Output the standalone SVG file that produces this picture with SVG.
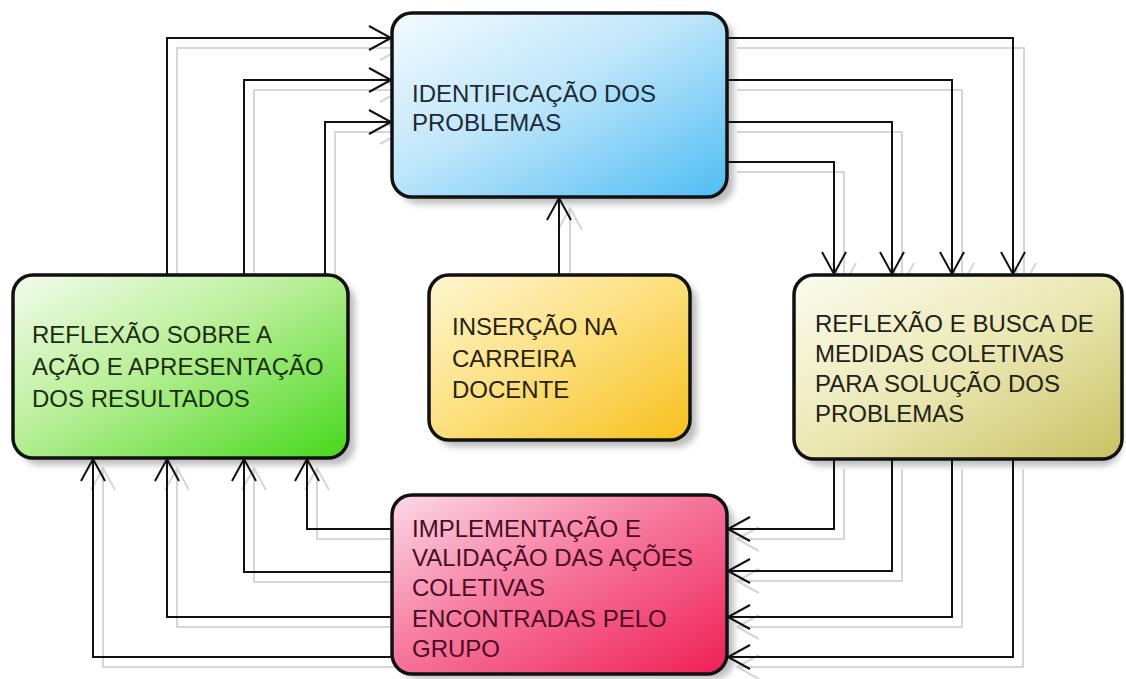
<svg xmlns="http://www.w3.org/2000/svg" width="1126" height="679" viewBox="0 0 1126 679">
<style>
.bg{fill:#ffffff}
.box{stroke:#111;stroke-width:3.5}
.shadow{fill:#bdbdbd;filter:url(#blur)}
.conn{fill:none;stroke:#111;stroke-width:2;marker-end:url(#arr)}
.ghost{fill:none;stroke:#d6d6d6;stroke-width:2;marker-end:url(#garr)}
.lbl{font-family:"Liberation Sans",Arial,sans-serif;font-size:24px}
</style>
<defs>
<filter id="blur" x="-10%" y="-10%" width="120%" height="120%"><feGaussianBlur stdDeviation="3"/></filter>
<marker id="arr" markerUnits="userSpaceOnUse" markerWidth="30" markerHeight="30" viewBox="-24 -15 28 30" refX="0" refY="0" orient="auto">
<path d="M-22,-12 L0,0 L-22,12" fill="none" stroke="#111" stroke-width="2"/>
</marker>
<marker id="garr" markerUnits="userSpaceOnUse" markerWidth="30" markerHeight="30" viewBox="-24 -15 28 30" refX="0" refY="0" orient="auto">
<path d="M-22,-12 L0,0 L-22,12" fill="none" stroke="#d6d6d6" stroke-width="2"/>
</marker>
<linearGradient id="gBlue" x1="0" y1="0" x2="1" y2="1"><stop offset="0" stop-color="#f4fbff"/><stop offset="0.45" stop-color="#bfe6fa"/><stop offset="1" stop-color="#4fbdf3"/></linearGradient>
<linearGradient id="gGreen" x1="0" y1="0" x2="1" y2="1"><stop offset="0" stop-color="#f3fcec"/><stop offset="0.45" stop-color="#b9ef98"/><stop offset="1" stop-color="#45d81a"/></linearGradient>
<linearGradient id="gYellow" x1="0" y1="0" x2="1" y2="1"><stop offset="0" stop-color="#fef6d2"/><stop offset="0.5" stop-color="#fcdf7c"/><stop offset="1" stop-color="#f7c01c"/></linearGradient>
<linearGradient id="gOlive" x1="0" y1="0" x2="1" y2="1"><stop offset="0" stop-color="#fcfcf0"/><stop offset="0.5" stop-color="#ebe8b4"/><stop offset="1" stop-color="#c9c163"/></linearGradient>
<linearGradient id="gPink" x1="0" y1="0" x2="1" y2="1"><stop offset="0" stop-color="#fbdbe8"/><stop offset="0.45" stop-color="#f6799e"/><stop offset="1" stop-color="#ef1f56"/></linearGradient>
</defs>
<rect class="bg" x="0" y="0" width="1126" height="679"/>

<g id="ghost-connectors">
<path class="ghost" d="M177,285 V48 H402"/>
<path class="ghost" d="M254,285 V90 H402"/>
<path class="ghost" d="M335,285 V132 H402"/>
<path class="ghost" d="M737,48 H1024 V285"/>
<path class="ghost" d="M737,90 H962 V285"/>
<path class="ghost" d="M737,132 H902 V285"/>
<path class="ghost" d="M737,172 H844 V285"/>
<path class="ghost" d="M570,285 V208"/>
<path class="ghost" d="M844,469 V539 H737"/>
<path class="ghost" d="M902,469 V581 H737"/>
<path class="ghost" d="M962,469 V627 H737"/>
<path class="ghost" d="M1023,469 V667 H737"/>
<path class="ghost" d="M402,539 H317 V468"/>
<path class="ghost" d="M402,582 H254 V468"/>
<path class="ghost" d="M402,627 H177 V468"/>
<path class="ghost" d="M402,667 H103 V468"/>
</g>

<g id="node-identificacao">
<rect class="shadow" x="399" y="20" width="335" height="184" rx="20"/>
<rect class="box" x="392" y="13" width="335" height="184" rx="20" fill="url(#gBlue)"/>
<text class="lbl" fill="#1c2a36"><tspan x="412" y="102">IDENTIFICAÇÃO DOS</tspan><tspan x="412" y="131">PROBLEMAS</tspan></text>
</g>

<g id="node-reflexao-acao">
<rect class="shadow" x="20" y="282" width="335" height="183" rx="20"/>
<rect class="box" x="13" y="275" width="335" height="183" rx="20" fill="url(#gGreen)"/>
<text class="lbl" fill="#1b2e12"><tspan x="32" y="343">REFLEXÃO SOBRE A</tspan><tspan x="32" y="375">AÇÃO E APRESENTAÇÃO</tspan><tspan x="32" y="407">DOS RESULTADOS</tspan></text>
</g>

<g id="node-insercao">
<rect class="shadow" x="436" y="282" width="261" height="165" rx="20"/>
<rect class="box" x="429" y="275" width="261" height="165" rx="20" fill="url(#gYellow)"/>
<text class="lbl" fill="#2a2212"><tspan x="452" y="335">INSERÇÃO NA</tspan><tspan x="452" y="367">CARREIRA</tspan><tspan x="452" y="398">DOCENTE</tspan></text>
</g>

<g id="node-reflexao-busca">
<rect class="shadow" x="801" y="282" width="320" height="184" rx="20"/>
<rect class="box" x="794" y="275" width="328" height="184" rx="20" fill="url(#gOlive)"/>
<text class="lbl" fill="#222218"><tspan x="815" y="332">REFLEXÃO E BUSCA DE</tspan><tspan x="815" y="362">MEDIDAS COLETIVAS</tspan><tspan x="815" y="392">PARA SOLUÇÃO DOS</tspan><tspan x="815" y="422">PROBLEMAS</tspan></text>
</g>

<g id="node-implementacao">
<rect class="shadow" x="399" y="502" width="335" height="177" rx="20"/>
<rect class="box" x="392" y="495" width="335" height="179" rx="20" fill="url(#gPink)"/>
<text class="lbl" fill="#4a0c22"><tspan x="412" y="537">IMPLEMENTAÇÃO E</tspan><tspan x="412" y="566">VALIDAÇÃO DAS AÇÕES</tspan><tspan x="412" y="596">COLETIVAS</tspan><tspan x="412" y="627">ENCONTRADAS PELO</tspan><tspan x="412" y="657">GRUPO</tspan></text>
</g>

<g id="connectors">
<path class="conn" d="M167,275 V38 H391"/>
<path class="conn" d="M244,275 V80 H391"/>
<path class="conn" d="M325,275 V122 H391"/>
<path class="conn" d="M727,38 H1013 V274"/>
<path class="conn" d="M727,80 H952 V274"/>
<path class="conn" d="M727,122 H892 V274"/>
<path class="conn" d="M727,162 H834 V274"/>
<path class="conn" d="M559,275 V198"/>
<path class="conn" d="M834,459 V529 H728"/>
<path class="conn" d="M892,459 V571 H728"/>
<path class="conn" d="M952,459 V617 H728"/>
<path class="conn" d="M1013,459 V657 H728"/>
<path class="conn" d="M392,529 H307 V459"/>
<path class="conn" d="M392,572 H244 V459"/>
<path class="conn" d="M392,617 H167 V459"/>
<path class="conn" d="M392,657 H93 V459"/>
</g>
</svg>
